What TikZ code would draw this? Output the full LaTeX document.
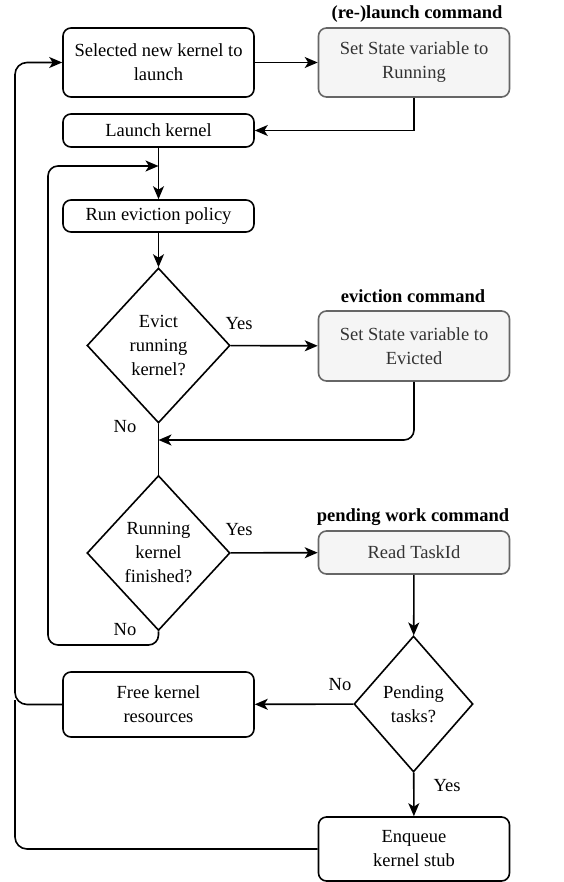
\documentclass[tikz,border=0pt]{standalone}
\usepackage{fontspec}
\setmainfont{Liberation Serif}
\usetikzlibrary{
    arrows.meta,
    shapes,
    positioning
}

\definecolor{cmdfill}{HTML}{F5F5F5}
\definecolor{cmdline}{HTML}{666666}
\definecolor{cmdtext}{HTML}{333333}

\begin{document}
\begin{tikzpicture}[x=1pt, y=-1pt, line width=1.6pt,
    >={Stealth[length=13pt, width=11pt, inset=3.5pt]},
    txt/.style={font=\fontsize{18.5}{24}\selectfont},
    box/.style={txt, draw, rounded corners=8pt, minimum width=191pt, align=center, inner sep=0pt},
    cmdbox/.style={box, fill=cmdfill, draw=cmdline, text=cmdtext},
    decision/.style={txt, draw, diamond, align=center, inner sep=0pt},
    head/.style={font=\bfseries\fontsize{18.5}{22}\selectfont}]
    \useasboundingbox (0,0) rectangle (563,882);

    % main column
    \node[box, minimum height=69pt] (sel) at (158.5, 62.5) {Selected new kernel to\\launch};
    \node[box, minimum height=33pt] (launch) at (158.5, 130.5) {Launch kernel};
    \node[box, minimum height=32pt] (evpol) at (158.5, 216) {Run eviction policy};
    \node[decision, minimum width=143pt, minimum height=155pt] (evict) at (158.5, 345.5) {Evict\\running\\kernel?};
    \node[decision, minimum width=143pt, minimum height=155pt] (fin) at (158.5, 553) {Running\\kernel\\finished?};
    \node[box, minimum height=65pt] (freek) at (158.5, 704.5) {Free kernel\\resources};

    % command column
    \node[cmdbox, minimum height=69pt] (run) at (414, 62.5) {Set State variable to\\Running};
    \node[head] at (417, 14) {(re-)launch command};
    \node[cmdbox, minimum height=70pt] (setev) at (414, 346) {Set State variable to\\Evicted};
    \node[head] at (413, 296) {eviction command};
    \node[cmdbox, minimum height=43pt] (readid) at (414, 552.5) {Read TaskId};
    \node[head] at (413, 517) {pending work command};
    \node[decision, minimum width=119pt, minimum height=136pt] (pend) at (413.5, 704) {Pending\\tasks?};
    \node[box, minimum height=64pt] (enq) at (414, 849) {Enqueue\\kernel stub};

    % branch labels
    \node[txt] (yes1) at (239, 324) {Yes};
    \node[txt] (no1) at (125, 427) {No};
    \node[txt] (yes2) at (239, 530) {Yes};
    \node[txt] (no2) at (125, 630) {No};
    \node[txt] (no3) at (340, 685) {No};
    \node[txt] (yes3) at (447, 786) {Yes};

    \coordinate (loopin) at (158.5, 166);
    \coordinate (evin) at (158.5, 440);

    \draw
    (sel) edge[->] (run)
    (launch) edge[->] (evpol)
    (evpol) edge[->] (evict)
    (evict) edge[->] (setev)
    (evict) edge (fin)
    (fin) edge[->] (readid)
    (readid) edge[->] (pend)
    (pend) edge[->] (freek)
    (pend) edge[->] (enq);

    \draw[->] (run.south) |- (launch.east);
    \draw[->, rounded corners=10pt] (setev.south) |- (evin);
    \draw[->, rounded corners=10pt] (fin.south) -- (158.5, 645) -- (48, 645) |- (loopin);
    \draw[->, rounded corners=12pt] (freek.west) -- (15, 704.5) |- (sel.west);
    \draw[rounded corners=12pt] (enq.west) -- (15, 849) -- (15, 700);
\end{tikzpicture}
\end{document}
